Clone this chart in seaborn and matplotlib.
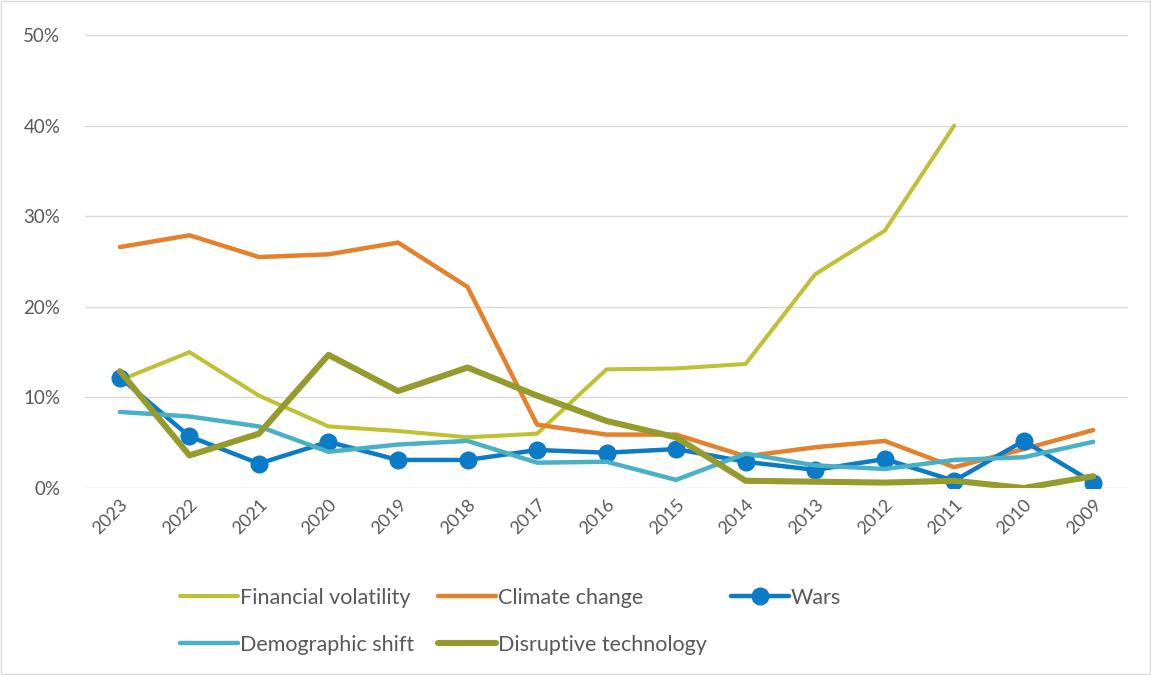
import numpy as np
import pandas as pd
import seaborn as sns
import matplotlib.pyplot as plt
from matplotlib.patches import Rectangle
from matplotlib.ticker import PercentFormatter

sns.set_style("white")
plt.rcParams["font.family"] = ["Lato", "DejaVu Sans"]

# ===================== DATA =====================
years = [2023, 2022, 2021, 2020, 2019, 2018, 2017, 2016, 2015, 2014, 2013, 2012, 2011, 2010, 2009]

financial_volatility = [11.9, 15.0, 10.2, 6.8, 6.3, 5.6, 6.0, 13.1, 13.2, 13.7, 23.6, 28.4, 40.0]
climate_change = [26.6, 27.9, 25.5, 25.8, 27.1, 22.2, 7.0, 5.9, 5.9, 3.5, 4.5, 5.2, 2.3, 4.3, 6.4]
wars = [12.2, 5.7, 2.7, 5.1, 3.1, 3.1, 4.2, 3.9, 4.3, 2.9, 2.0, 3.2, 0.8, 5.2, 0.6]
demographic_shift = [8.4, 7.9, 6.8, 4.0, 4.8, 5.2, 2.8, 2.9, 0.9, 3.8, 2.5, 2.1, 3.1, 3.4, 5.1]
disruptive_technology = [12.9, 3.6, 6.0, 14.7, 10.7, 13.3, 10.2, 7.4, 5.6, 0.8, 0.7, 0.6, 0.8, 0.0, 1.3]

series_names = ["Financial volatility", "Climate change", "Wars",
                "Demographic shift", "Disruptive technology"]
series_values = [financial_volatility, climate_change, wars,
                 demographic_shift, disruptive_technology]

colors = ["#BDC133", "#E4812A", "#0B7BC7", "#4AB0C6", "#959B2C"]
widths = [2.9, 3.2, 3.2, 3.2, 4.4]
markers = [None, None, "o", None, None]

# ===================== PLOT =====================
fig = plt.figure(figsize=(11.51, 6.75), dpi=100)
ax = fig.add_axes([0.074, 0.277, 0.906, 0.671])

for name, vals, c, lw, m in zip(series_names, series_values, colors, widths, markers):
    sns.lineplot(x=years[:len(vals)], y=vals, ax=ax, color=c, lw=lw,
                 marker=m, markersize=13, markeredgewidth=0,
                 solid_capstyle="round", solid_joinstyle="round", label=name)

ax.set_xlim(2023.5, 2008.5)
ax.set_ylim(0, 50)
ax.set_xticks(years)
ax.set_xticklabels([str(y) for y in years], rotation=45, ha="right",
                   rotation_mode="anchor", fontsize=13, color="#595959")
ax.set_yticks(np.arange(0, 51, 10))
ax.yaxis.set_major_formatter(PercentFormatter(decimals=0))
ax.tick_params(axis="y", labelsize=13.5, labelcolor="#595959", pad=18, length=0)
ax.tick_params(axis="x", pad=6, length=0)
ax.grid(axis="y", color="#D9D9D9", lw=1)
ax.set_axisbelow(True)
for s in ["top", "right", "left", "bottom"]:
    ax.spines[s].set_visible(False)
ax.set_xlabel("")
ax.set_ylabel("")

# legend: row-wise order -> column-major handles
handles, labels = ax.get_legend_handles_labels()
order = [0, 3, 1, 4, 2]
ax.legend([handles[i] for i in order], [labels[i] for i in order],
          ncol=3, frameon=False, loc="upper left",
          bbox_to_anchor=(0.147, 0.145), bbox_transform=fig.transFigure,
          fontsize=15.5, handlelength=2.7, handletextpad=0.1,
          columnspacing=1.1, labelspacing=1.25, borderpad=0,
          labelcolor="#595959")

fig.patches.append(Rectangle((0.001, 0.001), 0.998, 0.998, transform=fig.transFigure,
                             fill=False, edgecolor="#D9D9D9", lw=1))

fig.savefig("out.png", dpi=100)
